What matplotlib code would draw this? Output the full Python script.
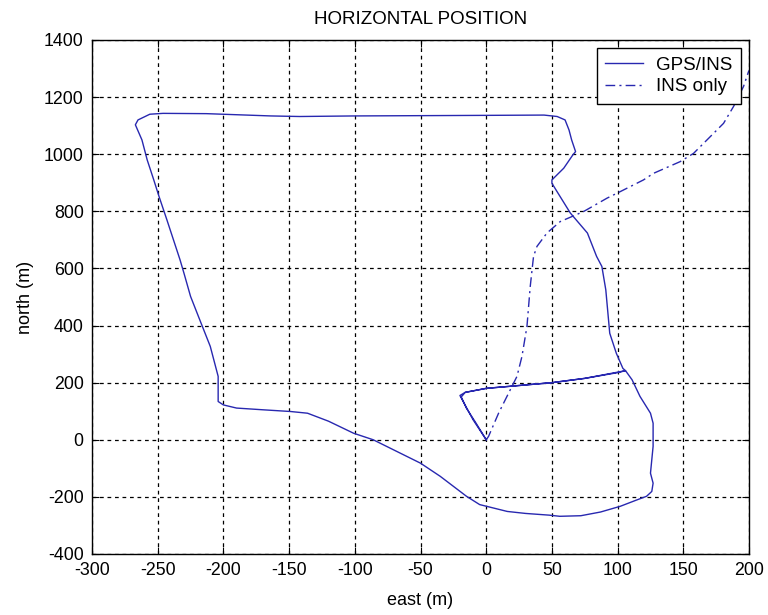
import matplotlib
matplotlib.use("Agg")
from matplotlib import pyplot as plt

plt.rcParams['font.family'] = ['Liberation Sans', 'DejaVu Sans']
plt.rcParams['axes.unicode_minus'] = False

# integrated GPS/INS track (east, north) in metres
gps_east = [0, -8, -15, -19, -16, 0, 25, 50, 75, 100, 106,
            111, 117, 125, 127, 127, 125, 127, 126, 122, 115, 102, 87, 72, 56,
            48, 30, 16, -5, -15, -35, -50, -86, -101, -120, -136, -149, -170, -190,
            -200, -204, -204, -210, -218, -225, -230, -233, -243, -249, -253,
            -258, -262, -267, -265, -256, -246, -213, -164, -142, -100, -50,
            0, 44, 54, 60, 63, 65, 68, 66, 59, 50, 50, 64, 77, 84, 88, 91, 94,
            99, 104, 106, 75, 50, 25, 0, -16, -20, -10, 0]
gps_north = [0, 60, 110, 150, 166, 180, 190, 200, 215, 235, 242,
             210, 152, 93, 58, -23, -117, -152, -181, -198, -210, -233, -253, -266, -268,
             -264, -258, -251, -227, -198, -128, -82, 0, 23, 65, 93, 99, 105, 111,
             122, 134, 222, 327, 420, 502, 583, 630, 770, 852, 910,
             980, 1050, 1103, 1120, 1140, 1143, 1142, 1134, 1132, 1134, 1135,
             1136, 1137, 1132, 1120, 1085, 1050, 1009, 998, 951, 910, 898, 794, 724, 642, 607, 525, 373,
             303, 250, 242, 215, 200, 190, 180, 166, 155, 70, 0]

# free inertial (INS only) track
ins_east = [0, 1.8, 9.4, 15.8, 23.4, 27.2, 31, 33.5, 36, 38.6, 46.2, 56.3, 74,
            91.9, 102, 119.7, 127.3, 147.6, 157.8, 180.6, 188.2, 195.8, 199.6, 205]
ins_north = [0, 12, 93, 152, 222, 292, 397, 537, 642, 677, 724, 764, 799,
             846, 869, 910, 933, 974, 1003, 1108, 1167, 1237, 1289, 1330]

fig = plt.figure(figsize=(7.68, 6.15), dpi=100)
ax = fig.add_axes([0.1198, 0.0992, 0.8555, 0.8358])

ax.plot(gps_east, gps_north, color='#2828b0', lw=1.0, label='GPS/INS')
ax.plot(ins_east, ins_north, color='#2828b0', lw=1.0,
        linestyle=(0, (7, 3, 1.5, 3)), label='INS only')

ax.set_xlim(-300, 200)
ax.set_ylim(-400, 1400)
ax.set_xticks(range(-300, 201, 50))
ax.set_yticks(range(-400, 1401, 200))
ax.grid(True, color='black', linestyle=(0, (3, 3)), linewidth=0.9)
ax.tick_params(direction='in', length=5, top=True, right=True, labelsize=12.8,
               pad=6, color='black')
for s in ax.spines.values():
    s.set_linewidth(1.0)

ax.set_title('HORIZONTAL POSITION', fontsize=13.5, pad=11.5)
ax.set_xlabel('east (m)', fontsize=13, labelpad=9)
ax.set_ylabel('north (m)', fontsize=13, labelpad=7)

leg = ax.legend(loc='upper right', fontsize=13.5, fancybox=False, framealpha=1,
                edgecolor='black', borderaxespad=0.45, handlelength=2.0,
                handletextpad=0.7, borderpad=0.45, labelspacing=0.22)
leg.get_frame().set_linewidth(1.0)

plt.savefig('out.png', dpi=100)
